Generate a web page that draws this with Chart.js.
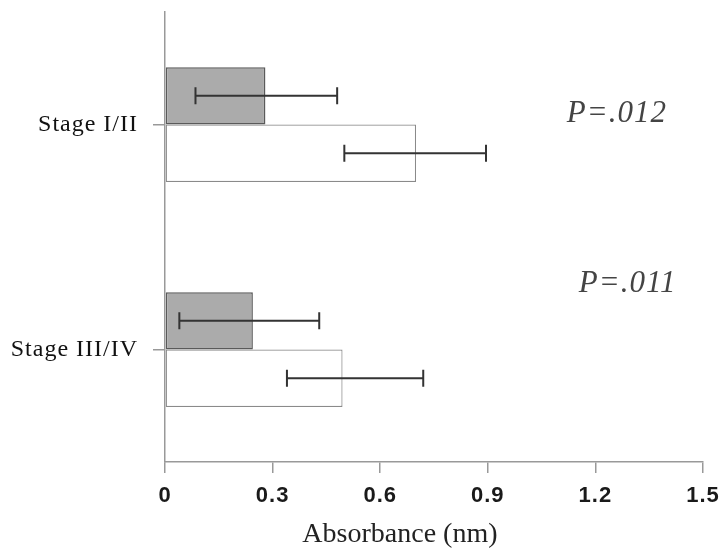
<!DOCTYPE html>
<html>
<head>
<meta charset="utf-8">
<script src="https://cdn.jsdelivr.net/npm/chart.js@4"></script>
<style>
  html, body { margin: 0; padding: 0; background: #ffffff; }
  #wrap { width: 719px; height: 551px; position: relative; }
</style>
</head>
<body>
<div id="wrap"><canvas id="c" width="719" height="551"></canvas></div>
<script>
// ---- data ----
const categories = ['Stage I/II', 'Stage III/IV'];
const shadedValues = [0.28, 0.245];
const openValues = [0.70, 0.495];
const shadedErrLow = [0.085, 0.04];
const shadedErrHigh = [0.48, 0.43];
const openErrLow = [0.50, 0.34];
const openErrHigh = [0.895, 0.72];
const xTickValues = [0, 0.3, 0.6, 0.9, 1.2, 1.5];
const xTickLabels = ['0', '0.3', '0.6', '0.9', '1.2', '1.5'];
const pLabels = ['P=.012', 'P=.011'];
const xTitle = 'Absorbance (nm)';

const errLow = [shadedErrLow, openErrLow];
const errHigh = [shadedErrHigh, openErrHigh];

const spacingPlugin = {
  id: 'spacing',
  beforeDraw(chart) { chart.ctx.letterSpacing = '1px'; },
  afterDraw(chart) { chart.ctx.letterSpacing = '0px'; }
};

const errorBarPlugin = {
  id: 'errorBars',
  afterDatasetsDraw(chart) {
    const ctx = chart.ctx;
    const xs = chart.scales.x;
    ctx.save();
    ctx.strokeStyle = '#333333';
    ctx.lineWidth = 2;
    for (let d = 0; d < chart.data.datasets.length; d++) {
      const meta = chart.getDatasetMeta(d);
      meta.data.forEach((bar, i) => {
        const y = bar.y;
        const x1 = xs.getPixelForValue(errLow[d][i]);
        const x2 = xs.getPixelForValue(errHigh[d][i]);
        ctx.beginPath();
        ctx.moveTo(x1, y); ctx.lineTo(x2, y);
        ctx.moveTo(x1, y - 8.5); ctx.lineTo(x1, y + 8.5);
        ctx.moveTo(x2, y - 8.5); ctx.lineTo(x2, y + 8.5);
        ctx.stroke();
      });
    }
    ctx.restore();
  }
};

const textPlugin = {
  id: 'texts',
  afterDraw(chart) {
    const ctx = chart.ctx;
    const xs = chart.scales.x, ys = chart.scales.y;
    ctx.save();
    ctx.letterSpacing = '1px';
    ctx.fillStyle = '#444444';
    ctx.font = 'italic 31px "Liberation Serif", "Times New Roman", serif';
    ctx.textAlign = 'center';
    ctx.textBaseline = 'middle';
    const pX = [1.26, 1.29];
    const pDy = [-11, -66];
    pLabels.forEach((t, i) => {
      ctx.fillText(t, xs.getPixelForValue(pX[i]), ys.getPixelForValue(i) + pDy[i]);
    });
    ctx.letterSpacing = '0px';
    ctx.fillStyle = '#222222';
    ctx.font = '28px "Liberation Serif", "Times New Roman", serif';
    ctx.fillText(xTitle, xs.getPixelForValue(0.655), 535);
    ctx.restore();
  }
};

new Chart(document.getElementById('c'), {
  type: 'bar',
  data: {
    labels: categories,
    datasets: [
      {
        label: 'Shaded',
        data: shadedValues,
        backgroundColor: '#ababab',
        borderColor: '#5a5a5a',
        borderWidth: 1.5,
        borderSkipped: false
      },
      {
        label: 'Open',
        data: openValues,
        backgroundColor: '#ffffff',
        borderColor: '#8a8a8a',
        borderWidth: 1.2,
        borderSkipped: false
      }
    ]
  },
  options: {
    indexAxis: 'y',
    responsive: false,
    animation: false,
    devicePixelRatio: 1,
    layout: { padding: { top: 12, right: 16, left: 0, bottom: 0 } },
    datasets: { bar: { categoryPercentage: 0.51, barPercentage: 1.0 } },
    plugins: {
      legend: { display: false },
      tooltip: { enabled: false },
      title: { display: false }
    },
    scales: {
      x: {
        type: 'linear',
        min: 0,
        max: 1.5,
        afterBuildTicks: (s) => { s.ticks = xTickValues.map(v => ({ value: v })); },
        afterFit: (s) => { s.height = 89; s.paddingLeft = 0; s.paddingRight = 0; },
        ticks: {
          callback: (v, i) => xTickLabels[i],
          color: '#1a1a1a',
          padding: 10,
          maxRotation: 0,
          autoSkip: false,
          font: { family: '"Liberation Sans", Arial, sans-serif', size: 22, weight: 'bold' }
        },
        grid: {
          drawOnChartArea: false,
          drawTicks: true,
          tickLength: 11,
          color: '#999999',
          lineWidth: 1.5
        },
        border: { display: true, color: '#999999', width: 1.5 }
      },
      y: {
        type: 'category',
        afterFit: (s) => { s.width = 165; s.paddingTop = 0; s.paddingBottom = 0; },
        ticks: {
          color: '#111111',
          padding: 15,
          font: { family: '"Liberation Serif", "Times New Roman", serif', size: 24 }
        },
        grid: {
          offset: false,
          drawOnChartArea: false,
          drawTicks: true,
          tickLength: 12,
          color: '#999999',
          lineWidth: 1.5
        },
        border: { display: true, color: '#999999', width: 1.5 }
      }
    }
  },
  plugins: [spacingPlugin, errorBarPlugin, textPlugin]
});
</script>
</body>
</html>
